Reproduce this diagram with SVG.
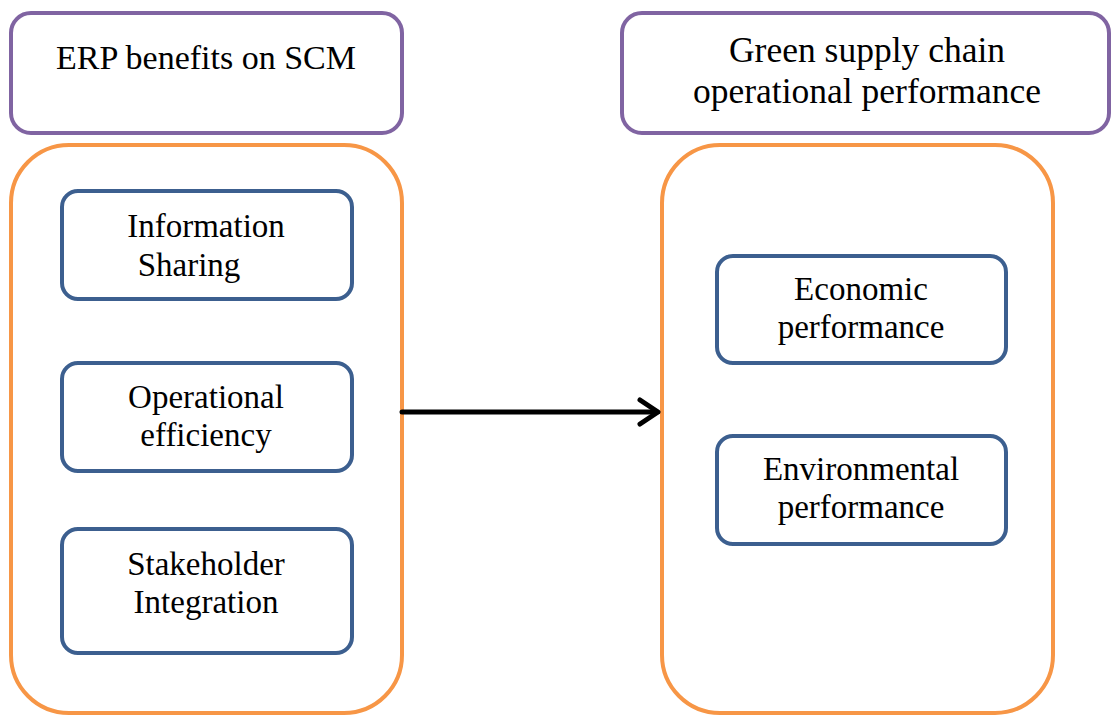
<svg xmlns="http://www.w3.org/2000/svg" width="1111" height="715" viewBox="0 0 1111 715">
<defs>
<style>
.hdr{fill:#fff;stroke:#8064a2;stroke-width:4}
.grp{fill:#fff;stroke:#f79646;stroke-width:4}
.item{fill:#fff;stroke:#3c5f8f;stroke-width:4}
text{font-family:"Liberation Serif","Times New Roman",serif;font-size:33px;fill:#000;text-anchor:middle}
.h1{font-size:34px}
.h2{font-size:35.5px}
.conn{stroke:#000;stroke-width:5;fill:none;stroke-linecap:round;stroke-linejoin:round}
</style>
</defs>
<rect width="1111" height="715" fill="#fff"/>
<g id="hdr-left"><rect class="hdr" x="11" y="13" width="391" height="120" rx="20"/><text class="h1" x="206" y="69">ERP benefits on SCM</text></g>
<g id="hdr-right"><rect class="hdr" x="622" y="13" width="487" height="120" rx="20"/><text class="h2" x="867" y="62">Green supply chain</text><text class="h2" x="867" y="103">operational performance</text></g>
<g id="grp-left"><rect class="grp" x="11" y="145" width="391" height="568" rx="58"/></g>
<g id="grp-right"><rect class="grp" x="662" y="145" width="391" height="568" rx="58"/></g>
<g id="info"><rect class="item" x="62" y="191" width="290" height="108" rx="16"/><text x="206" y="237">Information</text><text x="189" y="276">Sharing</text></g>
<g id="oper"><rect class="item" x="62" y="363" width="290" height="108" rx="16"/><text x="206" y="408">Operational</text><text x="206" y="446">efficiency</text></g>
<g id="stake"><rect class="item" x="62" y="529" width="290" height="124" rx="16"/><text x="206" y="575">Stakeholder</text><text x="206" y="613">Integration</text></g>
<g id="econ"><rect class="item" x="717" y="256" width="289" height="107" rx="16"/><text x="861" y="300">Economic</text><text x="861" y="338">performance</text></g>
<g id="env"><rect class="item" x="717" y="436" width="289" height="108" rx="16"/><text x="861" y="480">Environmental</text><text x="861" y="518">performance</text></g>
<g id="connectors">
<line class="conn" x1="402" y1="412" x2="657" y2="412"/>
<polyline class="conn" points="640,400 658,412 640,424"/>
</g>
</svg>
